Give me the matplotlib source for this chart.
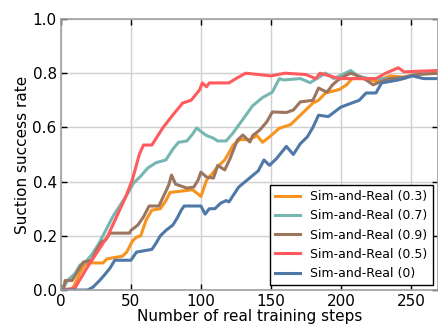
import matplotlib
matplotlib.use('Agg')
import matplotlib.pyplot as plt

# Sim-and-Real (0.3)
x_03 = [0, 8, 13.5, 17, 19, 30, 33, 44, 47, 51, 54, 57, 61, 65, 71, 75, 78, 94, 99, 100,
        104, 109, 112, 117, 121, 123, 128, 135, 140, 144, 149, 156, 164, 169, 176, 180,
        184, 189, 199, 204, 208, 218, 225, 235, 245, 255, 262, 270]
y_03 = [0, 0, 0.062, 0.092, 0.1, 0.1, 0.115, 0.125, 0.14, 0.18, 0.195, 0.2, 0.26, 0.295,
        0.3, 0.33, 0.36, 0.37, 0.35, 0.345, 0.405, 0.435, 0.455, 0.48, 0.515, 0.535, 0.555,
        0.555, 0.57, 0.545, 0.565, 0.597, 0.61, 0.635, 0.67, 0.69, 0.70, 0.727, 0.74, 0.757,
        0.78, 0.78, 0.77, 0.79, 0.785, 0.80, 0.80, 0.80]

# Sim-and-Real (0.7)
x_07 = [0, 3, 5, 10, 13.6, 17, 22, 27, 32, 37, 42, 47, 52, 57, 62, 68, 75, 80, 84, 90, 94,
        97, 100, 104, 109, 112, 118, 123, 130, 137, 144, 151, 156, 159, 171, 178, 189, 195,
        207, 212, 220, 245, 255, 270]
y_07 = [0, 0.02, 0.037, 0.06, 0.092, 0.1, 0.13, 0.17, 0.22, 0.27, 0.31, 0.35, 0.395, 0.42,
        0.45, 0.47, 0.48, 0.52, 0.545, 0.55, 0.575, 0.598, 0.585, 0.57, 0.56, 0.55, 0.55,
        0.58, 0.63, 0.68, 0.71, 0.73, 0.78, 0.775, 0.78, 0.765, 0.80, 0.78, 0.81, 0.79,
        0.78, 0.78, 0.80, 0.80]

# Sim-and-Real (0.9)
x_09 = [0, 2, 3, 8, 12, 16, 22, 25.5, 29, 32, 35, 49, 50, 55, 59, 63, 70, 73, 77, 79, 82,
        84, 90, 95, 98, 100, 104, 109, 112, 117, 121, 126, 130, 135, 137, 142, 147, 151,
        161, 166, 171, 180, 184, 190, 194, 198, 204, 207, 214, 218, 223, 229, 235, 245,
        255, 270]
y_09 = [0, 0, 0.035, 0.035, 0.07, 0.103, 0.11, 0.148, 0.177, 0.185, 0.21, 0.21, 0.22, 0.24,
        0.27, 0.31, 0.31, 0.343, 0.387, 0.424, 0.39, 0.387, 0.376, 0.38, 0.406, 0.435,
        0.417, 0.413, 0.46, 0.443, 0.487, 0.553, 0.572, 0.546, 0.57, 0.59, 0.62, 0.657,
        0.655, 0.664, 0.694, 0.70, 0.745, 0.73, 0.757, 0.775, 0.793, 0.80, 0.786, 0.775,
        0.757, 0.77, 0.78, 0.785, 0.795, 0.80]

# Sim-and-Real (0.5)
x_05 = [0, 10, 19, 26, 33.5, 41, 46, 51, 56, 59, 65, 73, 80, 87, 93, 99, 101, 104, 106,
        120, 125, 132, 150, 160, 175, 182, 185, 199, 225, 232, 241, 245, 270]
y_05 = [0, 0.007, 0.085, 0.14, 0.2, 0.284, 0.34, 0.406, 0.5, 0.535, 0.535, 0.6, 0.646,
        0.69, 0.70, 0.738, 0.764, 0.75, 0.764, 0.764, 0.78, 0.80, 0.79, 0.80, 0.795, 0.78,
        0.80, 0.78, 0.78, 0.80, 0.82, 0.805, 0.81]

# Sim-and-Real (0)
x_00 = [0, 19, 23, 28, 31, 35, 38.5, 50, 54, 65, 68, 71, 75, 80, 83, 86, 88, 100, 103,
        106, 110, 114, 118, 120, 127, 134, 141, 145, 149, 154, 161, 166, 171, 176, 180,
        184, 191, 200, 213, 218, 225, 229, 241, 251, 259, 270]
y_00 = [0, 0, 0.011, 0.037, 0.055, 0.08, 0.11, 0.11, 0.14, 0.15, 0.173, 0.2, 0.22, 0.24,
        0.265, 0.295, 0.31, 0.31, 0.28, 0.30, 0.30, 0.32, 0.33, 0.325, 0.38, 0.41, 0.44,
        0.48, 0.46, 0.485, 0.53, 0.5, 0.54, 0.565, 0.60, 0.645, 0.64, 0.675, 0.70, 0.727,
        0.727, 0.764, 0.775, 0.79, 0.78, 0.78]

series = [
    (x_03, y_03, 'Sim-and-Real (0.3)', '#f7931e'),
    (x_07, y_07, 'Sim-and-Real (0.7)', '#76b7b2'),
    (x_09, y_09, 'Sim-and-Real (0.9)', '#9c755f'),
    (x_05, y_05, 'Sim-and-Real (0.5)', '#ff5a5e'),
    (x_00, y_00, 'Sim-and-Real (0)', '#4e79a7'),
]

fig = plt.figure(figsize=(4.38, 3.27), dpi=100)
ax = fig.add_axes([0.139, 0.113, 0.86, 0.829])

for xs, ys, label, color in series:
    ax.plot(xs, ys, color=color, linewidth=2.2, label=label)

ax.set_xlim(0, 269)
ax.set_ylim(0, 1.0)
ax.set_xticks([0, 50, 100, 150, 200, 250])
ax.set_yticks([0.0, 0.2, 0.4, 0.6, 0.8, 1.0])
ax.set_yticklabels(['0.0', '0.2', '0.4', '0.6', '0.8', '1.0'])
ax.grid(True, color='#d0d0d0', linewidth=1.0)
ax.set_axisbelow(True)
for s in ax.spines.values():
    s.set_color('#a0a0a0')
    s.set_linewidth(1.2)
ax.tick_params(direction='in', top=True, right=True, length=4, width=1,
               color='black', labelsize=11, pad=3)
ax.set_xlabel('Number of real training steps', fontsize=11, labelpad=0)
ax.set_ylabel('Suction success rate', fontsize=11, labelpad=2)

leg = ax.legend(loc='lower right', fontsize=9, fancybox=False, framealpha=1,
                edgecolor='black', borderaxespad=0.4, handlelength=2.0)
leg.get_frame().set_linewidth(1.0)

fig.savefig('out.png', dpi=100)
